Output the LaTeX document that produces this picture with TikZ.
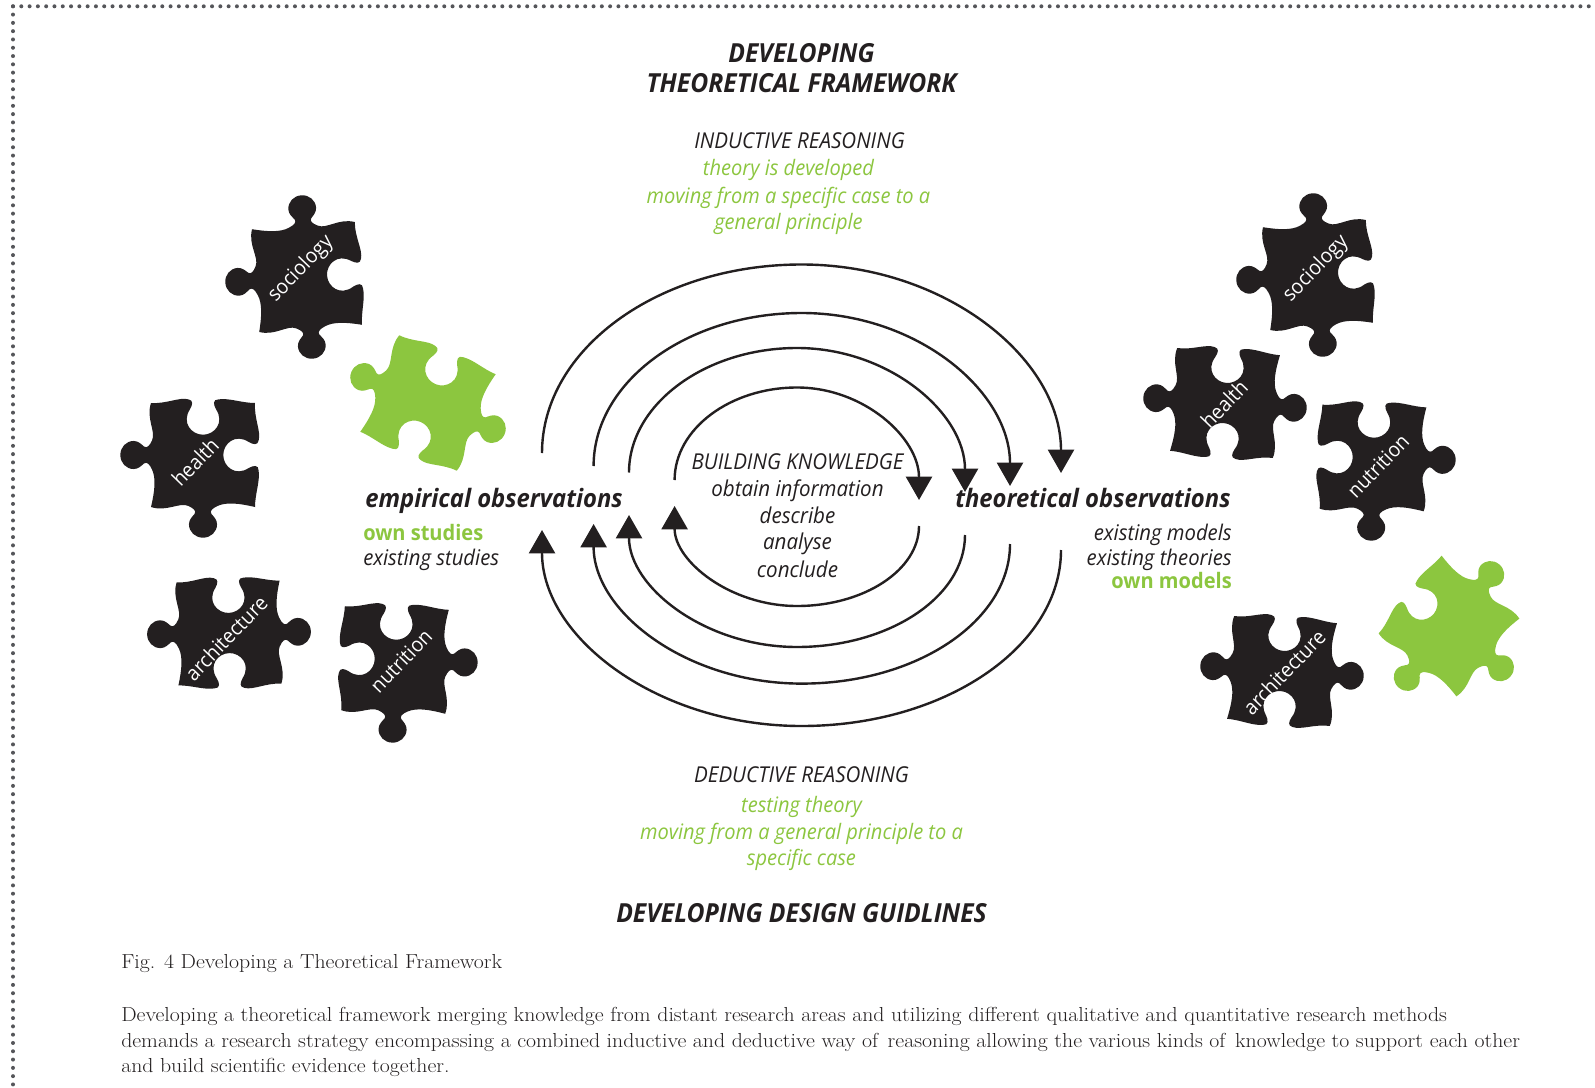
\documentclass[tikz,border=0pt]{standalone}
\usepackage{fontspec}
\usetikzlibrary{arrows.meta}
\setmainfont{Open Sans}[FakeStretch=0.94]
\newfontfamily\capfont{Latin Modern Roman}[FakeStretch=1.075]
\definecolor{pzblack}{HTML}{231F20}
\definecolor{pzgreen}{HTML}{8CC63F}
\definecolor{dotgrey}{HTML}{55565A}
\newcommand\pztab[1]{.. controls ([rotate=#1]-.7,-.93) and ([rotate=#1]-.45,-.9) .. ([rotate=#1]-.28,-.98)
 .. controls ([rotate=#1]-.17,-1.03) and ([rotate=#1]-.13,-1.08) .. ([rotate=#1]-.16,-1.13)
 .. controls ([rotate=#1]-.2,-1.18) and ([rotate=#1]-.27,-1.24) .. ([rotate=#1]-.27,-1.33)
 .. controls ([rotate=#1]-.27,-1.48) and ([rotate=#1]-.15,-1.59) .. ([rotate=#1]0,-1.59)
 .. controls ([rotate=#1].15,-1.59) and ([rotate=#1].27,-1.48) .. ([rotate=#1].27,-1.33)
 .. controls ([rotate=#1].27,-1.24) and ([rotate=#1].2,-1.18) .. ([rotate=#1].16,-1.13)
 .. controls ([rotate=#1].13,-1.08) and ([rotate=#1].17,-1.03) .. ([rotate=#1].28,-.98)
 .. controls ([rotate=#1].45,-.9) and ([rotate=#1].7,-1.1) .. ([rotate=#1]1,-1)}
\newcommand\pzsock[1]{.. controls ([rotate=#1]-.7,-.98) and ([rotate=#1]-.45,-1.12) .. ([rotate=#1]-.28,-1.07)
 .. controls ([rotate=#1]-.18,-1.05) and ([rotate=#1]-.2,-.97) .. ([rotate=#1]-.25,-.88)
 .. controls ([rotate=#1]-.42,-.62) and ([rotate=#1]-.22,-.39) .. ([rotate=#1]0,-.39)
 .. controls ([rotate=#1].22,-.39) and ([rotate=#1].42,-.62) .. ([rotate=#1].25,-.88)
 .. controls ([rotate=#1].2,-.97) and ([rotate=#1].18,-1.07) .. ([rotate=#1].3,-1.07)
 .. controls ([rotate=#1].5,-1.1) and ([rotate=#1].75,-1.0) .. ([rotate=#1]1,-1)}
% #1 position/rotation, #2 colour, #3..#6 top, right, bottom, left sides
\newcommand\pzpiece[6]{\begin{scope}[#1]
 \fill[#2] (-1,-1) \csname pz#3\endcsname{0} \csname pz#4\endcsname{-90} \csname pz#5\endcsname{-180} \csname pz#6\endcsname{-270} -- cycle;
\end{scope}}
\tikzset{
 mainline/.style={font=\fontsize{16.4}{19}\selectfont\itshape,text=pzblack,anchor=base,inner sep=0pt},
 greenline/.style={font=\fontsize{16}{19}\selectfont\itshape,text=pzgreen,anchor=base,inner sep=0pt},
 headline/.style={font=\fontsize{19.7}{22}\selectfont\bfseries\itshape,text=pzblack,anchor=base,inner sep=0pt},
 sidehead/.style={font=\fontsize{19}{20}\selectfont\bfseries\itshape,text=pzblack,anchor=base west,inner sep=0pt},
 sideline/.style={font=\fontsize{16.2}{17}\selectfont\itshape,text=pzblack,inner sep=0pt},
 sidegreen/.style={font=\fontsize{16}{17}\selectfont\bfseries,text=pzgreen,inner sep=0pt},
 pzlabel/.style={font=\fontsize{15.4}{16}\selectfont,text=white,inner sep=0pt,rotate=46},
 captext/.style={font=\capfont\fontsize{15.2}{16}\selectfont,text=pzblack,anchor=base west,inner sep=0pt},
 arc/.style={line width=1.8pt,pzblack},
 arcin/.style={arc,-{Triangle[width=19.5pt,length=17.5pt]}},
 dotline/.style={line width=3pt,line cap=round,dash pattern=on 0pt off 6.22pt,dotgrey}
}
\begin{document}
\begin{tikzpicture}[x=0.75pt,y=-0.75pt]
\useasboundingbox (0,0) rectangle (1595,1088);
\fill[white] (0,0) rectangle (1595,1088);
% dotted border
\coordinate (bTL) at (13,6.3); \coordinate (bTR) at (1595,6.3); \coordinate (bBL) at (13,1088);
\draw[dotline] (bTL) -- (bTR);
\draw[dotline] (bTL) -- (bBL);
% puzzle pieces left
\pzpiece{shift={(307,277)},rotate=4,scale=51.5}{pzblack}{tab}{sock}{tab}{tab}
\pzpiece{shift={(428,403)},rotate=-22,scale=52}{pzgreen}{sock}{tab}{sock}{tab}
\pzpiece{shift={(203,455)},rotate=0,scale=52}{pzblack}{sock}{sock}{tab}{tab}
\pzpiece{shift={(229,633)},rotate=1,scale=51.5}{pzblack}{sock}{tab}{sock}{tab}
\pzpiece{shift={(395,660)},rotate=-2,scale=52}{pzblack}{sock}{tab}{tab}{sock}
% puzzle pieces right
\pzpiece{shift={(1318,275)},rotate=4,scale=51.5}{pzblack}{tab}{sock}{tab}{tab}
\pzpiece{shift={(1225,403)},rotate=-4,scale=51.5}{pzblack}{sock}{tab}{sock}{tab}
\pzpiece{shift={(1373,458)},rotate=-1.5,scale=52}{pzblack}{sock}{tab}{tab}{sock}
\pzpiece{shift={(1282,671)},rotate=-4,scale=51.5}{pzblack}{sock}{tab}{sock}{tab}
\pzpiece{shift={(1449,626)},rotate=-39,scale=50}{pzgreen}{tab}{tab}{tab}{sock}
% piece labels
\node[pzlabel] (lSocL) at (301,269) {sociology};
\node[pzlabel] (lHeaL) at (195,462) {health};
\node[pzlabel] (lArcL) at (226,638) {architecture};
\node[pzlabel] (lNutL) at (401,661) {nutrition};
\node[pzlabel] (lSocR) at (1316,269) {sociology};
\node[pzlabel] (lHeaR) at (1224,404) {health};
\node[pzlabel] (lNutR) at (1378,466) {nutrition};
\node[pzlabel] (lArcR) at (1284,672) {architecture};
% headings
\node[headline] (t1) at (801.5,63) {DEVELOPING};
\node[headline] (t2) at (801.5,93) {THEORETICAL FRAMEWORK};
\node[mainline] (ind) at (799.5,148) {INDUCTIVE REASONING};
\node[greenline] (ind1) at (788.5,175) {theory is developed};
\node[greenline] (ind2) at (788.5,203) {moving from a specific case to a};
\node[greenline] (ind3) at (788.5,229) {general principle};
\node[mainline] (bk0) at (797.5,469) {BUILDING KNOWLEDGE};
\node[mainline] (bk1) at (797.5,496) {obtain information};
\node[mainline] (bk2) at (797.5,523) {describe};
\node[mainline] (bk3) at (797.5,549) {analyse};
\node[mainline] (bk4) at (797.5,577) {conclude};
\node[sidehead] (emp) at (365,507) {empirical observations};
\node[sidehead] (the) at (955,507) {theoretical observations};
\node[sidegreen,anchor=base west] (own) at (363,540) {own studies};
\node[sideline,anchor=base west] (exs) at (363,565) {existing studies};
\node[sideline,anchor=base east] (exm) at (1232,540) {existing models};
\node[sideline,anchor=base east] (ext) at (1232,565) {existing theories};
\node[sidegreen,anchor=base east] (owm) at (1232,588) {own models};
\node[mainline] (ded) at (801.5,782) {DEDUCTIVE REASONING};
\node[greenline] (ded1) at (801.5,812) {testing theory};
\node[greenline] (ded2) at (801.5,839) {moving from a general principle to a};
\node[greenline] (ded3) at (801.5,865) {specific case};
\node[headline] (t3) at (801.5,922) {DEVELOPING DESIGN GUIDLINES};
% caption
\node[captext] (cap) at (121,968) {Fig. 4 Developing a Theoretical Framework};
\node[captext] (p1) at (121,1021) {Developing a theoretical framework merging knowledge from distant research areas and utilizing different qualitative and quantitative research methods};
\node[captext] (p2) at (121,1047) {demands a research strategy encompassing a combined inductive and deductive way of\hspace{.15em} reasoning allowing the various kinds of\hspace{.15em} knowledge to support each other};
\node[captext] (p3) at (121,1072) {and build scientific evidence together.};
% arcs
\coordinate (a1s) at (542,453); \coordinate (a1p) at (801.5,264.5); \coordinate (a1e) at (1061,473);
\coordinate (a2s) at (593.6,466); \coordinate (a2p) at (801.8,313); \coordinate (a2e) at (1010,486);
\coordinate (a3s) at (629,472.5); \coordinate (a3p) at (797,348); \coordinate (a3e) at (965,492);
\coordinate (a4s) at (674.6,480); \coordinate (a4p) at (797,387.5); \coordinate (a4e) at (919,500);
\coordinate (b1s) at (1061,550); \coordinate (b1p) at (801.5,726); \coordinate (b1e) at (542,530);
\coordinate (b2s) at (1010,544); \coordinate (b2p) at (801.8,683.6); \coordinate (b2e) at (593.6,524);
\coordinate (b3s) at (965,535); \coordinate (b3p) at (797,647); \coordinate (b3e) at (629,515);
\coordinate (b4s) at (919,526); \coordinate (b4p) at (797,606); \coordinate (b4e) at (674.6,506);
\draw[arcin] (a1s) .. controls +(0,-104) and +(-143,0) .. (a1p) .. controls +(143,0) and +(0,-115) .. (a1e);
\draw[arcin] (a2s) .. controls +(0,-84) and +(-115,0) .. (a2p) .. controls +(115,0) and +(0,-95) .. (a2e);
\draw[arcin] (a3s) .. controls +(0,-68) and +(-92,0) .. (a3p) .. controls +(92,0) and +(0,-79) .. (a3e);
\draw[arcin] (a4s) .. controls +(0,-51) and +(-67,0) .. (a4p) .. controls +(67,0) and +(0,-62) .. (a4e);
\draw[arcin] (b1s) .. controls +(0,97) and +(143,0) .. (b1p) .. controls +(-143,0) and +(0,108) .. (b1e);
\draw[arcin] (b2s) .. controls +(0,77) and +(115,0) .. (b2p) .. controls +(-115,0) and +(0,88) .. (b2e);
\draw[arcin] (b3s) .. controls +(0,62) and +(92,0) .. (b3p) .. controls +(-92,0) and +(0,72) .. (b3e);
\draw[arcin] (b4s) .. controls +(0,44) and +(67,0) .. (b4p) .. controls +(-67,0) and +(0,55) .. (b4e);
\end{tikzpicture}
\end{document}
